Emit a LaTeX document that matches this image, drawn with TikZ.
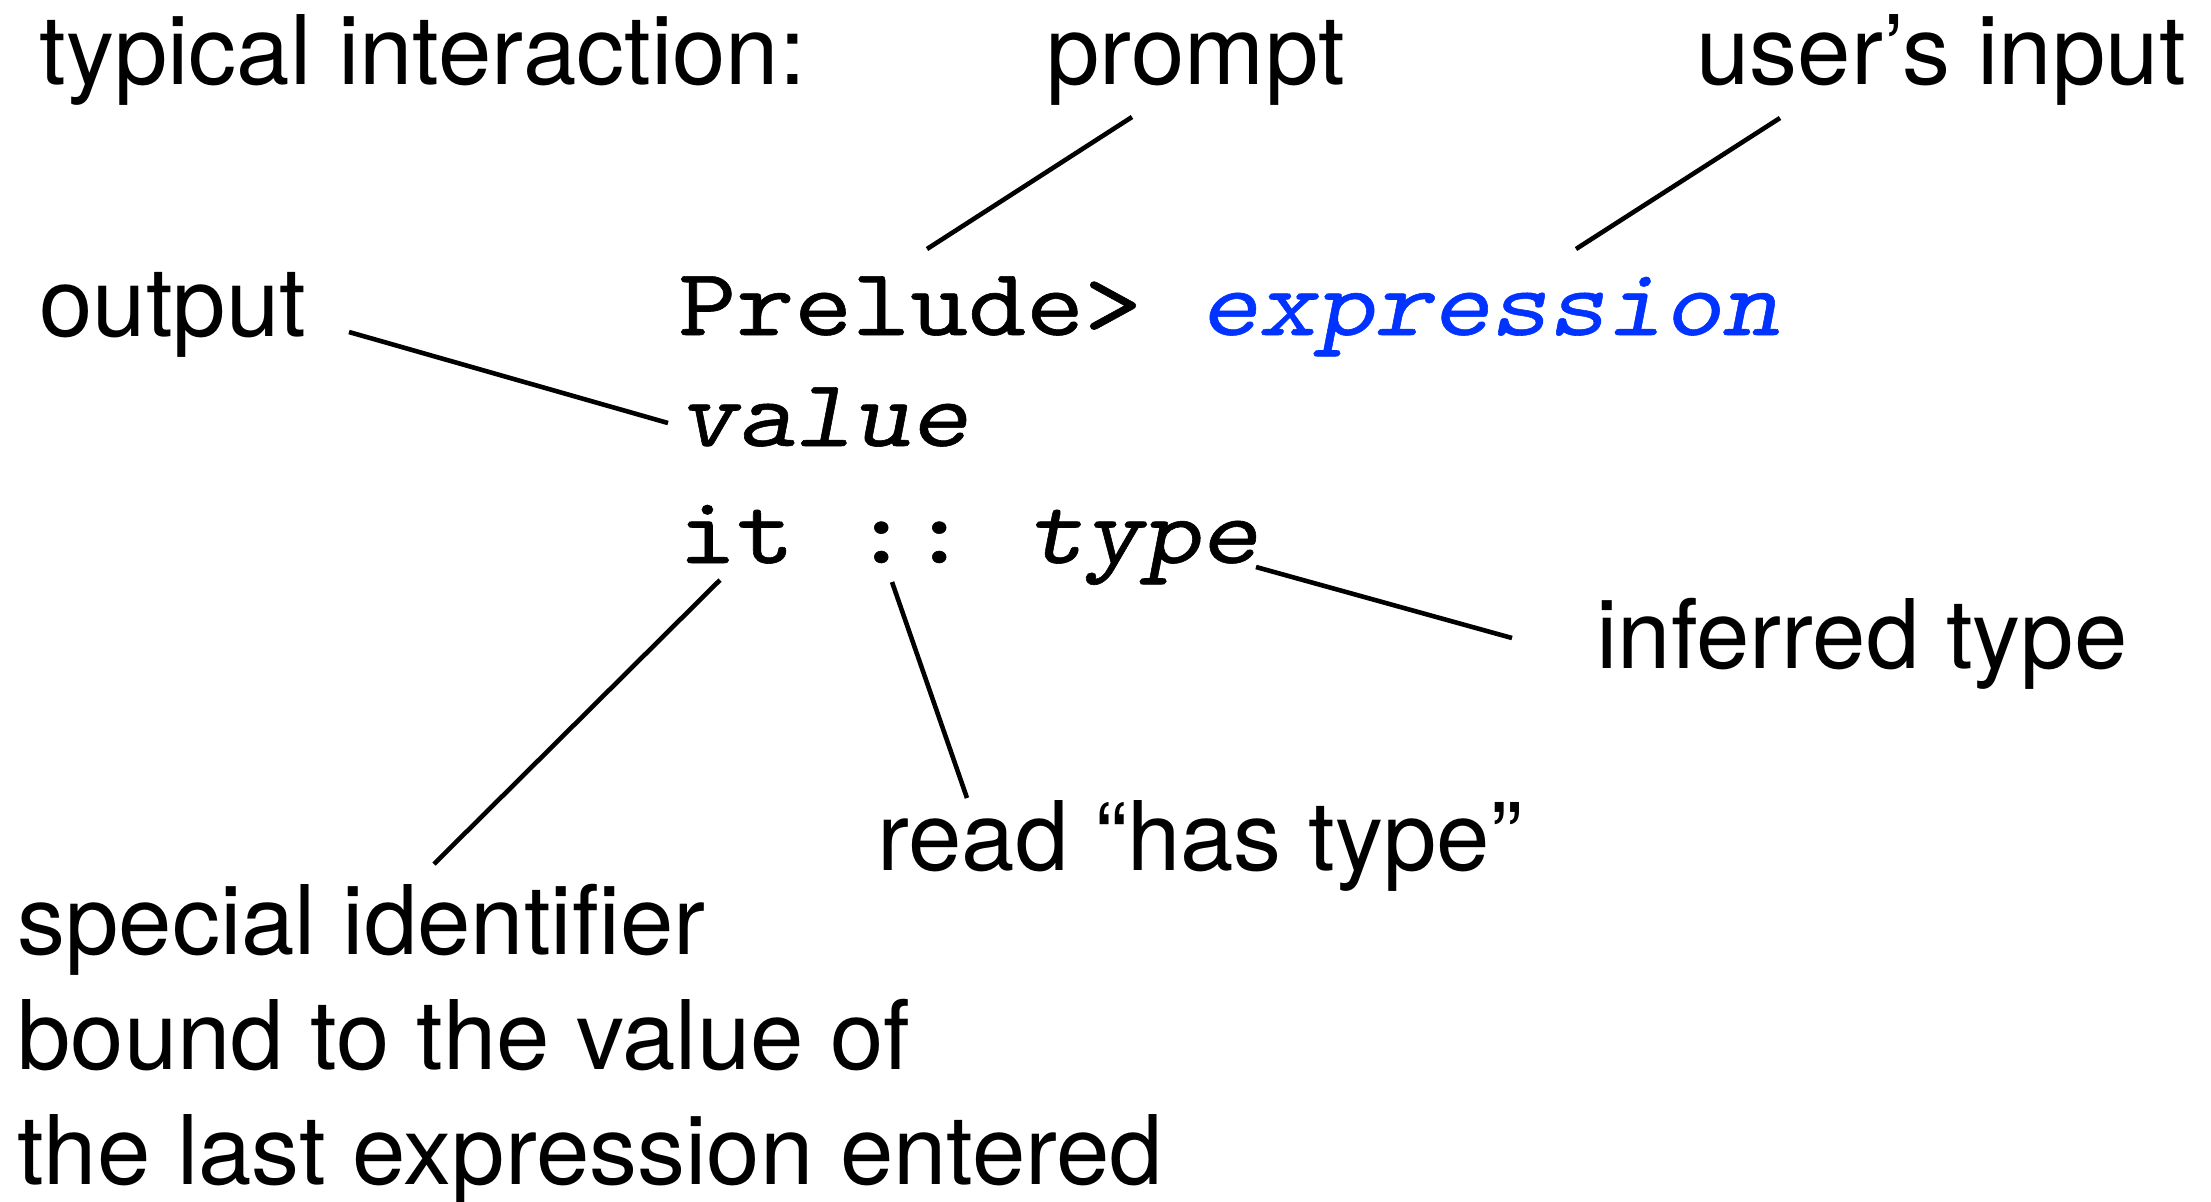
\documentclass[tikz,border=0pt]{standalone}
\usepackage{fontspec}
\setmainfont{TeX Gyre Heros}
\newfontfamily\codefont{lmmono10-regular.otf}[ItalicFont=lmmonoslant10-regular.otf, FakeStretch=1.15, FakeBold=0.6]
\usepackage{xcolor}
\usetikzlibrary{positioning}
\definecolor{inputblue}{RGB}{0,51,255}

\begin{document}
\begin{tikzpicture}[
  x=0.5pt, y=-0.5pt,
  note/.style={inner sep=0pt, anchor=base west,
               font=\fontsize{48}{57.5}\selectfont},
  code/.style={inner sep=0pt, anchor=base west,
               font=\fontsize{48}{57.5}\codefont\frenchspacing},
  lead/.style={line width=2.3pt},
]
  \useasboundingbox (0,0) rectangle (2211,1201);

  % Labels
  \node[note] (title)    at (39,84)    {typical interaction:};
  \node[note] (prompt)   at (1046,84)  {prompt};
  \node[note] (input)    at (1696,84)  {user’s input};
  \node[note] (output)   at (39,336)   {output};
  \node[note] (inferred) at (1596,668) {inferred type};
  \node[note] (hastype)  at (877,870)  {read “has type”};
  \node[note] (special)  at (17,954)   {special identifier};
  \node[note] (bound)    at (17,1069)  {bound to the value of};
  \node[note] (last)     at (17,1184)  {the last expression entered};

  % Session
  \node[code] (prelude) at (678,335) {Prelude> \textcolor{inputblue}{\itshape expression}};
  \node[code] (value)   at (678,446) {\itshape value};
  \node[code] (ittype)  at (678,563) {it :: \itshape type};

  % Leader ends
  \coordinate (promptEnd)   at (1132,117);
  \coordinate (preludeEnd)  at (927,249);
  \coordinate (inputEnd)    at (1780,118);
  \coordinate (exprEnd)     at (1576,249);
  \coordinate (outputEnd)   at (349,332);
  \coordinate (valueEnd)    at (668,423);
  \coordinate (typeEnd)     at (1256,567);
  \coordinate (inferredEnd) at (1512,638);
  \coordinate (itEnd)       at (720,580);
  \coordinate (specialEnd)  at (434,864);
  \coordinate (colonEnd)    at (892,582);
  \coordinate (hastypeEnd)  at (967,798);

  % Leaders
  \draw[lead] (promptEnd) -- (preludeEnd);
  \draw[lead] (inputEnd)  -- (exprEnd);
  \draw[lead] (outputEnd) -- (valueEnd);
  \draw[lead] (typeEnd)   -- (inferredEnd);
  \draw[lead] (itEnd)     -- (specialEnd);
  \draw[lead] (colonEnd)  -- (hastypeEnd);
\end{tikzpicture}
\end{document}
